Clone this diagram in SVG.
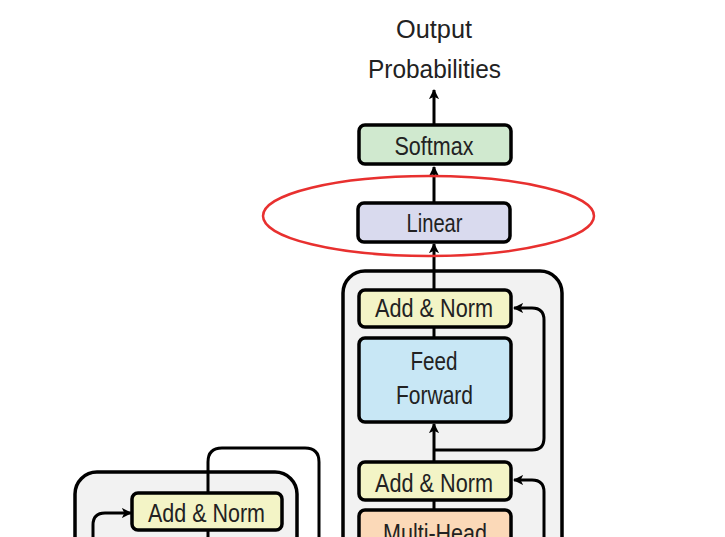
<svg xmlns="http://www.w3.org/2000/svg" width="725" height="537" viewBox="0 0 725 537">
<defs>
<style>
.lbl{font-family:"Liberation Sans",Arial,sans-serif;font-size:26px;fill:#222;text-anchor:middle}
.box{stroke:#000;stroke-width:3.5}
.outer{fill:#f2f2f2;stroke:#000;stroke-width:3.5}
.wire{fill:none;stroke:#000;stroke-width:3}
.arr{fill:none;stroke:#000;stroke-width:3;marker-end:url(#ah)}
</style>
<marker id="ah" viewBox="0 0 10 10" refX="9" refY="5" markerWidth="3.4" markerHeight="3.4" orient="auto" markerUnits="strokeWidth">
<path d="M0,0 L10,5 L0,10 L2.5,5 z" fill="#000"/>
</marker>
</defs>
<rect width="725" height="537" fill="#fff"/>
<g id="decoder-block">
<rect class="outer" x="343" y="271" width="219" height="320" rx="22"/>
</g>
<g id="encoder-block">
<rect class="outer" x="75" y="472" width="222" height="120" rx="22"/>
</g>
<g id="connectors">
<path class="arr" d="M434,125 V90"/>
<path class="arr" d="M434,203 V167"/>
<path class="arr" d="M434,290 V244"/>
<path class="wire" d="M434,327 V338"/>
<path class="arr" d="M434,462 V424"/>
<path class="arr" d="M434,450 H532 Q544,450 544,438 V320 Q544,308 532,308 H514"/>
<path class="wire" d="M434,500 V510"/>
<path class="arr" d="M544,540 V492 Q544,480 532,480 H514"/>
<path class="wire" d="M208,493 V462 Q208,448 222,448 H305 Q319,448 319,462 V540"/>
<path class="arr" d="M93,540 V525 Q93,513 105,513 H131"/>
<path class="wire" d="M208,530 V540"/>
</g>
<g id="output-label">
<text class="lbl" x="434" y="38" textLength="76" lengthAdjust="spacingAndGlyphs">Output</text>
<text class="lbl" x="434.5" y="78" textLength="133" lengthAdjust="spacingAndGlyphs">Probabilities</text>
</g>
<g id="softmax">
<rect class="box" x="359" y="125" width="152" height="39" rx="6" fill="#d0e9cf"/>
<text class="lbl" x="434" y="155" textLength="79" lengthAdjust="spacingAndGlyphs">Softmax</text>
</g>
<g id="linear">
<rect class="box" x="358" y="203" width="152" height="39" rx="6" fill="#d9daee"/>
<text class="lbl" x="434.5" y="232" textLength="56" lengthAdjust="spacingAndGlyphs">Linear</text>
</g>
<g id="highlight">
<ellipse cx="428.5" cy="216" rx="165.5" ry="40" fill="none" stroke="#e8302f" stroke-width="2.5"/>
</g>
<g id="add-norm-top">
<rect class="box" x="359" y="290" width="152" height="37" rx="6" fill="#f3f4c6"/>
<text class="lbl" x="434" y="317" textLength="118" lengthAdjust="spacingAndGlyphs">Add &amp; Norm</text>
</g>
<g id="feed-forward">
<rect class="box" x="359" y="338" width="152" height="84" rx="6" fill="#c8e7f5"/>
<text class="lbl" x="434" y="370" textLength="47" lengthAdjust="spacingAndGlyphs">Feed</text>
<text class="lbl" x="434.5" y="404" textLength="77" lengthAdjust="spacingAndGlyphs">Forward</text>
</g>
<g id="add-norm-mid">
<rect class="box" x="359" y="462" width="152" height="38" rx="6" fill="#f3f4c6"/>
<text class="lbl" x="434" y="492" textLength="118" lengthAdjust="spacingAndGlyphs">Add &amp; Norm</text>
</g>
<g id="multi-head">
<rect class="box" x="359" y="510" width="152" height="80" rx="6" fill="#fbd9b8"/>
<text class="lbl" x="435" y="542" textLength="104" lengthAdjust="spacingAndGlyphs">Multi-Head</text>
</g>
<g id="encoder-add-norm">
<rect class="box" x="132" y="493" width="150" height="37" rx="6" fill="#f3f4c6"/>
<text class="lbl" x="206.5" y="522" textLength="117" lengthAdjust="spacingAndGlyphs">Add &amp; Norm</text>
</g>
</svg>
